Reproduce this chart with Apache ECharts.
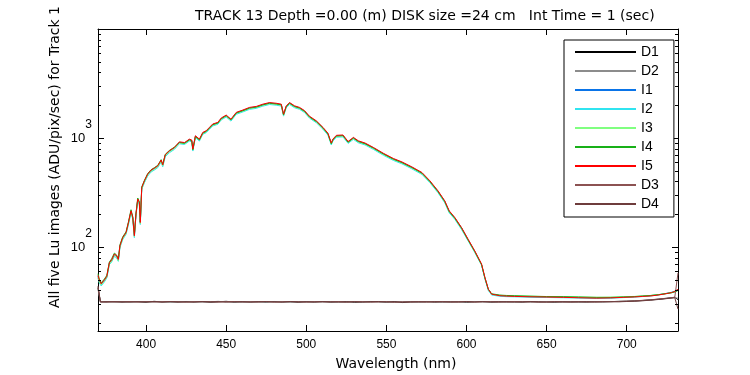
<!DOCTYPE html>
<html><head><meta charset="utf-8">
<script src="https://cdn.jsdelivr.net/npm/echarts@6/dist/echarts.min.js"></script>
<style>html,body{margin:0;padding:0;background:#fff}#c{width:750px;height:375px}</style>
</head><body><div id="c"></div>
<script>
// ---- data ----
const wlI = [
370.0, 370.8, 372.0, 374.0, 375.5, 377.1, 378.5, 380.2, 381.5, 382.7,
383.7, 385.4, 387.5, 389.0, 390.6, 391.7, 392.7, 393.7, 394.8, 395.8,
396.4, 397.3, 399.0, 401.0, 403.1, 405.2, 407.3, 409.4, 410.4, 412.0,
414.6, 417.7, 420.8, 424.0, 427.0, 428.5, 429.2, 430.8, 433.3, 435.4,
437.5, 439.6, 441.6, 444.8, 446.9, 450.0, 453.0, 456.3, 460.4, 464.6,
468.8, 472.9, 477.0, 481.2, 484.4, 485.8, 487.5, 489.6, 492.7, 495.8,
498.9, 502.0, 506.3, 510.4, 513.5, 515.6, 516.6, 518.8, 522.9, 526.1,
529.4, 532.5, 536.7, 541.9, 548.1, 554.4, 559.7, 565.9, 572.2, 577.1,
582.2, 586.4, 589.2, 592.7, 596.9, 601.0, 605.2, 609.4, 611.5, 613.6,
615.7, 620.8, 625, 630, 639.6, 650, 660.4, 670, 681.3, 690,
697.8, 705, 710, 715, 720, 725, 728, 730.2, 732];

const I5 = [
55, 50, 46, 50, 54, 72, 76, 86, 84, 77,
103, 122, 136, 168, 215, 187, 127, 201, 276, 257,
168, 352, 406, 467, 508, 530, 557, 628, 568, 703,
765, 820, 923, 909, 977, 960, 792, 1050, 977, 1127,
1166, 1254, 1345, 1393, 1526, 1625, 1490, 1720, 1807, 1910,
1950, 2045, 2115, 2085, 2045, 1655, 1975, 2115, 1975, 1910,
1785, 1585, 1437, 1254, 1108, 900, 977, 1060, 1067, 930,
1014, 943, 900, 820, 725, 649, 604, 544, 483, 406,
328, 266, 215, 187, 151, 118, 92, 70, 52.6, 41.2,
37, 35.8, 35.5, 35.3, 35.0, 34.8, 34.6, 34.3, 34.0, 34.2,
34.6, 34.9, 35.3, 35.6, 36.4, 37.5, 38.3, 39.4, 41];

const I1 = [
54, 49, 46, 50, 53, 71, 75, 85, 83, 76,
102, 121, 134, 166, 212, 185, 126, 199, 272, 254,
166, 348, 402, 462, 503, 525, 551, 622, 562, 696,
757, 812, 914, 900, 967, 950, 784, 1040, 967, 1116,
1154, 1241, 1332, 1379, 1511, 1609, 1475, 1703, 1789, 1891,
1931, 2025, 2094, 2064, 2025, 1638, 1955, 2094, 1955, 1891,
1767, 1569, 1423, 1241, 1097, 891, 967, 1049, 1056, 921,
1004, 934, 891, 812, 718, 643, 598, 539, 478, 402,
325, 263, 213, 185, 150, 117, 91, 69, 52, 41,
37, 35.9, 35.3, 35.4, 35.1, 34.6, 34.7, 34.4, 34.2, 34.3,
34.7, 35.1, 35.4, 35.9, 36.6, 37.7, 38.4, 39.2, 40.5];

const I2 = [
52, 47, 44, 48, 52, 69, 73, 82, 80, 74,
99, 117, 131, 161, 206, 180, 122, 193, 265, 247,
161, 338, 390, 448, 488, 509, 535, 603, 545, 675,
734, 787, 886, 873, 938, 922, 760, 1008, 938, 1082,
1119, 1204, 1291, 1337, 1465, 1560, 1430, 1651, 1735, 1834,
1872, 1963, 2030, 2002, 1963, 1589, 1896, 2030, 1896, 1834,
1714, 1522, 1380, 1204, 1064, 864, 938, 1018, 1024, 893,
973, 905, 864, 787, 696, 623, 580, 522, 464, 390,
315, 255, 206, 180, 145, 114, 89, 68, 51, 40,
36.3, 35.4, 35.1, 35.0, 34.7, 34.5, 34.3, 34.1, 33.9, 34.0,
34.4, 34.8, 35.2, 35.7, 36.5, 37.6, 38.6, 39.5, 40.8];

const I3 = [
53, 48, 45, 49, 53, 70, 74, 84, 82, 75,
101, 119, 133, 164, 210, 183, 125, 197, 270, 252,
164, 344, 397, 457, 497, 518, 545, 614, 556, 688,
748, 802, 903, 889, 956, 939, 775, 1027, 956, 1102,
1140, 1226, 1316, 1362, 1492, 1589, 1457, 1682, 1767, 1868,
1907, 2000, 2069, 2039, 2000, 1618, 1932, 2069, 1932, 1868,
1746, 1550, 1405, 1226, 1084, 880, 956, 1037, 1044, 909,
992, 922, 880, 802, 709, 635, 591, 532, 472, 397,
321, 260, 210, 183, 148, 116, 90, 69, 52, 41,
36.8, 36.1, 35.8, 35.6, 35.4, 35.1, 35.0, 34.8, 34.6, 34.7,
35.0, 35.3, 35.6, 36.0, 36.7, 37.6, 38.2, 39.0, 40.2];

const I4 = [
57, 51, 47, 51, 55, 73, 78, 88, 85, 78,
105, 124, 138, 170, 220, 190, 130, 204, 282, 260,
170, 356, 410, 472, 512, 535, 562, 634, 573, 710,
770, 826, 909, 895, 962, 946, 780, 1034, 962, 1110,
1148, 1235, 1325, 1372, 1503, 1601, 1468, 1694, 1780, 1881,
1921, 2014, 2083, 2054, 2014, 1630, 1945, 2083, 1945, 1881,
1758, 1561, 1415, 1235, 1091, 886, 962, 1044, 1051, 916,
999, 929, 886, 808, 714, 639, 595, 536, 476, 400,
323, 262, 212, 184, 149, 116, 91, 69, 52, 41,
37.3, 36.3, 36.0, 35.8, 35.5, 35.2, 35.1, 34.9, 34.6, 34.6,
34.9, 35.2, 35.6, 36.0, 36.6, 37.5, 38.1, 38.9, 40.0];

const darkWl = [
370, 371.5, 375, 380, 385, 390, 395, 400, 405, 410,
415, 420, 425, 430, 435, 440, 445, 450, 455, 460,
465, 470, 475, 480, 485, 490, 495, 500, 505, 510,
515, 520, 525, 530, 535, 540, 545, 550, 555, 560,
565, 570, 575, 580, 585, 590, 595, 600, 605, 610,
615, 620, 625, 630, 635, 640, 645, 650, 655, 660,
665, 670, 675, 680, 685, 690, 695, 700, 705, 710,
715, 720, 725, 730, 731, 732];

const D1 = [
42, 31.6, 31.4, 31.7, 31.3, 31.6, 31.5, 31.2, 31.8, 31.4,
31.5, 31.3, 31.7, 31.4, 31.6, 31.2, 31.5, 31.8, 31.3, 31.5,
31.4, 31.6, 31.3, 31.7, 31.4, 31.5, 31.2, 31.6, 31.4, 31.7,
31.3, 31.5, 31.6, 31.2, 31.4, 31.7, 31.5, 31.3, 31.6, 31.0,
31.4, 31.5, 31.7, 31.3, 31.5, 31.4, 31.6, 31.2, 31.5, 31.7,
31.3, 31.4, 31.6, 31.5, 31.3, 31.7, 31.4, 31.5, 31.2, 31.6,
31.4, 31.5, 31.3, 31.7, 31.5, 31.6, 31.8, 31.9, 32.1, 32.4,
32.8, 33.3, 33.9, 34.6, 35.0, 33];

const D2 = [
41, 31.4, 31.7, 31.3, 31.6, 31.2, 31.7, 31.5, 31.3, 31.6,
31.2, 31.6, 31.4, 31.7, 31.3, 31.5, 31.8, 31.4, 31.6, 31.2,
31.6, 31.3, 31.5, 31.4, 31.7, 31.2, 31.6, 31.4, 31.5, 31.3,
31.6, 31.4, 31.2, 31.7, 31.5, 31.3, 31.6, 31.4, 31.1, 31.5,
31.6, 31.3, 31.4, 31.7, 31.2, 31.6, 31.4, 31.5, 31.7, 31.3,
31.5, 31.7, 31.3, 31.4, 31.6, 31.2, 31.5, 31.6, 31.4, 31.3,
31.6, 31.3, 31.5, 31.4, 31.6, 31.7, 31.6, 31.8, 32.0, 32.3,
32.7, 33.2, 33.8, 34.4, 34.9, 34];

const D3 = [
43, 31.5, 31.3, 31.6, 31.4, 31.7, 31.3, 31.6, 31.4, 31.5,
31.7, 31.4, 31.3, 31.6, 31.5, 31.4, 31.3, 31.6, 31.7, 31.4,
31.5, 31.4, 31.7, 31.3, 31.5, 31.6, 31.4, 31.3, 31.6, 31.5,
31.4, 31.7, 31.3, 31.5, 31.6, 31.3, 31.4, 31.6, 31.2, 31.4,
31.3, 31.6, 31.5, 31.4, 31.7, 31.3, 31.5, 31.6, 31.3, 31.5,
31.6, 31.3, 31.5, 31.7, 31.4, 31.5, 31.3, 31.4, 31.6, 31.5,
31.3, 31.6, 31.4, 31.5, 31.7, 31.5, 31.7, 31.9, 32.1, 32.5,
32.9, 33.4, 34.0, 34.7, 35.2, 58];

const D4 = [
44, 31.3, 31.6, 31.4, 31.5, 31.3, 31.6, 31.4, 31.7, 31.3,
31.6, 31.5, 31.4, 31.3, 31.7, 31.5, 31.6, 31.3, 31.4, 31.6,
31.3, 31.5, 31.6, 31.4, 31.3, 31.7, 31.5, 31.5, 31.3, 31.6,
31.5, 31.3, 31.4, 31.6, 31.3, 31.5, 31.7, 31.4, 31.5, 31.3,
31.5, 31.4, 31.3, 31.6, 31.4, 31.5, 31.3, 31.7, 31.4, 31.6,
31.4, 31.6, 31.4, 31.3, 31.5, 31.6, 31.5, 31.3, 31.5, 31.4,
31.5, 31.4, 31.6, 31.3, 31.4, 31.6, 31.5, 31.7, 31.9, 32.2,
32.6, 33.1, 33.7, 34.3, 34.8, 27];

const seriesNames = ['D1', 'D2', 'I1', 'I2', 'I3', 'I4', 'I5', 'D3', 'D4'];
const minorTickValues = [20, 30, 40, 50, 60, 70, 80, 90, 200, 300, 400, 500, 600, 700, 800, 900,
  2000, 3000, 4000, 5000, 6000, 7000, 8000, 9000];
const titleText = 'TRACK 13 Depth =0.00 (m) DISK size =24 cm   Int Time = 1 (sec)';
const xLabelText = 'Wavelength (nm)';
const yLabelText = 'All five Lu images (ADU/pix/sec) for Track 1';

// ---- build ----
const FONT = '"Liberation Sans", Arial, Helvetica, sans-serif';
const WFONT = '"DejaVu Sans", Verdana, sans-serif';
const colors = {
  D1: '#000000', D2: '#8c8c8c', I1: '#0a74e8', I2: '#30e4f0', I3: '#80ff80',
  I4: '#18b018', I5: '#ff0000', D3: '#8c5252', D4: '#6e3c3c'
};
function pairs(xs, ys) {
  const out = [];
  for (let i = 0; i < xs.length && i < ys.length; i++) out.push([xs[i], ys[i]]);
  return out;
}
const dataMap = {
  D1: pairs(darkWl, D1), D2: pairs(darkWl, D2), D3: pairs(darkWl, D3), D4: pairs(darkWl, D4),
  I1: pairs(wlI, I1), I2: pairs(wlI, I2), I3: pairs(wlI, I3), I4: pairs(wlI, I4), I5: pairs(wlI, I5)
};
const lineSeries = seriesNames.map(n => ({
  type: 'line', name: n, data: dataMap[n], symbol: 'none', showSymbol: false,
  lineStyle: { width: 1, color: colors[n] }, itemStyle: { color: colors[n] },
  animation: false, xAxisIndex: 0, yAxisIndex: 0
}));
const minorSeries = {
  type: 'custom', name: 'minorTicks', silent: true, coordinateSystem: 'cartesian2d',
  xAxisIndex: 0, yAxisIndex: 0, clip: false, animation: false, z: 10,
  data: minorTickValues.map(v => [370, v]),
  renderItem: function (params, api) {
    const cs = params.coordSys;
    const p = api.coord([api.value(0), api.value(1)]);
    const y = Math.round(p[1]) + 0.5;
    return { type: 'group', children: [
      { type: 'line', shape: { x1: cs.x, y1: y, x2: cs.x + 3, y2: y }, style: { stroke: '#000', lineWidth: 1 } },
      { type: 'line', shape: { x1: cs.x + cs.width - 3, y1: y, x2: cs.x + cs.width, y2: y }, style: { stroke: '#000', lineWidth: 1 } }
    ] };
  }
};
const axisCommon = {
  axisLine: { show: true, onZero: false, lineStyle: { color: '#000', width: 1 } },
  axisTick: { show: true, inside: true, length: 6, lineStyle: { color: '#000', width: 1 } },
  splitLine: { show: false }
};
const legendData = seriesNames.map(n => ({
  name: n, icon: 'rect',
  itemStyle: { color: colors[n], borderWidth: 0, borderColor: colors[n], opacity: 1 }
}));
const chart = echarts.init(document.getElementById('c'), null, { renderer: 'canvas' });
chart.setOption({
  backgroundColor: '#ffffff',
  animation: false,
  grid: { left: 98, top: 29, width: 580, height: 302, containLabel: false },
  xAxis: [
    Object.assign({ type: 'value', position: 'bottom', min: 370, max: 732, minInterval: 50, maxInterval: 50,
      axisLabel: { color: '#000', fontSize: 12, fontFamily: FONT, margin: 8, showMinLabel: false, showMaxLabel: false } }, axisCommon),
    Object.assign({ type: 'value', position: 'top', min: 370, max: 732, minInterval: 50, maxInterval: 50,
      axisLabel: { show: false } }, axisCommon)
  ],
  yAxis: [
    Object.assign({ type: 'log', logBase: 10, position: 'left', min: 17, max: 10000,
      axisLabel: {
        margin: 6, color: '#000', fontFamily: FONT,
        formatter: function (v) {
          const e = Math.log10(v), r = Math.round(e);
          if (Math.abs(e - r) < 1e-6 && (r === 2 || r === 3)) return '{b|10}{s|' + r + '}';
          return '';
        },
        padding: [0, 0, 13, 0],
        rich: {
          b: { fontSize: 13, fontFamily: FONT, color: '#000', lineHeight: 26, verticalAlign: 'bottom' },
          s: { fontSize: 12, fontFamily: FONT, color: '#000', lineHeight: 26, verticalAlign: 'top' }
        }
      } }, axisCommon),
    Object.assign({ type: 'log', logBase: 10, position: 'right', min: 17, max: 10000,
      axisLabel: { show: false } }, axisCommon)
  ],
  legend: {
    data: legendData, orient: 'vertical', left: 564, top: 40,
    itemWidth: 61, itemHeight: 2, itemGap: 5, padding: [5, 15, 6, 11],
    borderColor: '#000', borderWidth: 1, borderRadius: 0, backgroundColor: '#fff',
    selectedMode: false,
    itemStyle: { borderWidth: 0 },
    textStyle: { fontSize: 14, color: '#000', fontFamily: FONT, lineHeight: 14 }
  },
  graphic: [
    { type: 'text', x: 195, y: 16, silent: true,
      style: { text: titleText, font: '14px ' + WFONT, fill: '#000', textAlign: 'left', textVerticalAlign: 'middle', align: 'left', verticalAlign: 'middle' } },
    { type: 'text', x: 396, y: 364, silent: true,
      style: { text: xLabelText, font: '14px ' + WFONT, fill: '#000', textAlign: 'center', textVerticalAlign: 'middle', align: 'center', verticalAlign: 'middle' } },
    { type: 'text', x: 55, y: 308, rotation: Math.PI / 2, silent: true,
      style: { text: yLabelText, font: '14px ' + WFONT, fill: '#000', textAlign: 'left', textVerticalAlign: 'middle', align: 'left', verticalAlign: 'middle' } }
  ],
  series: lineSeries.concat([minorSeries])
});
</script>
</body></html>
